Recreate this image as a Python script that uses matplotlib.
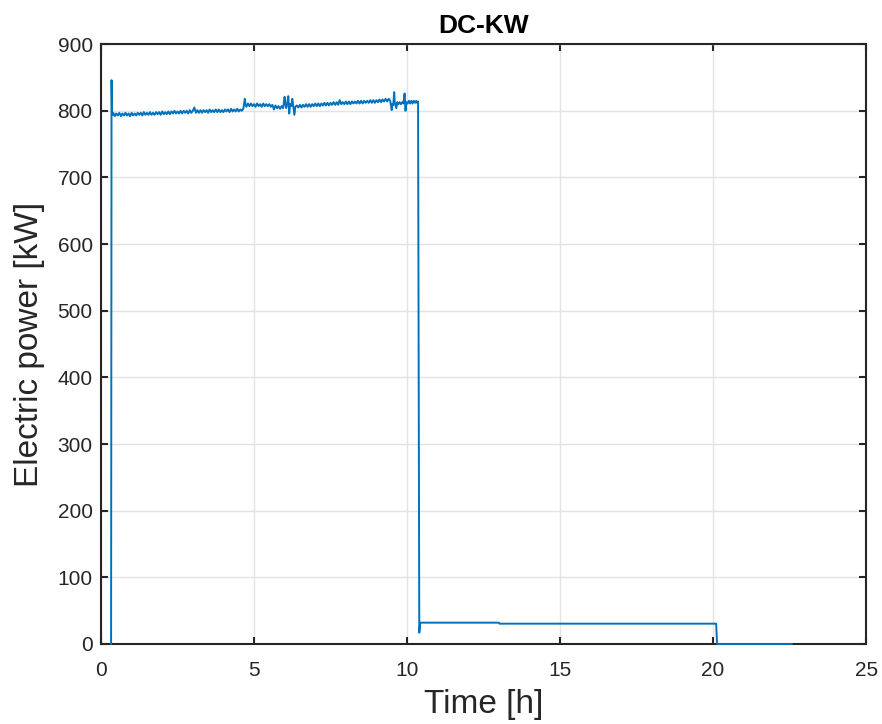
import matplotlib
matplotlib.use("Agg")
import matplotlib.pyplot as plt

plt.rcParams['font.family'] = ['Liberation Sans', 'DejaVu Sans']

# --- data (hours, kW) ---
start_t = [0.33, 0.345, 0.36, 0.38]
start_p = [0.0, 846.0, 796.0, 794.0]

plateau1_t = [0.40, 0.45, 0.50, 0.55, 0.60, 0.65, 0.70, 0.75, 0.80, 0.85,
              0.90, 0.95, 1.00, 1.05, 1.10, 1.15, 1.20, 1.25, 1.30, 1.35,
              1.40, 1.45, 1.50, 1.55, 1.60, 1.65, 1.70, 1.75, 1.80, 1.85,
              1.90, 1.95, 2.00, 2.05, 2.10, 2.15, 2.20, 2.25, 2.30, 2.35,
              2.40, 2.45, 2.50, 2.55, 2.60, 2.65, 2.70, 2.75, 2.80, 2.85,
              2.90, 2.95, 3.00, 3.05, 3.10, 3.15, 3.20, 3.25, 3.30, 3.35,
              3.40, 3.45, 3.50, 3.55, 3.60, 3.65, 3.70, 3.75, 3.80, 3.85,
              3.90, 3.95, 4.00, 4.05, 4.10, 4.15, 4.20, 4.25, 4.30, 4.35,
              4.40, 4.45, 4.50, 4.55, 4.60, 4.65]
plateau1_p = [797, 792, 796, 793, 797, 792, 796, 793, 797, 793,
              796, 792, 797, 793, 796, 793, 797, 794, 797, 793,
              798, 794, 797, 794, 798, 794, 797, 794, 798, 795,
              798, 794, 799, 795, 798, 795, 799, 795, 799, 796,
              800, 796, 799, 796, 800, 796, 800, 797, 800, 796,
              801, 797, 800, 805, 797, 801, 797, 801, 797, 801,
              798, 801, 797, 802, 798, 801, 798, 802, 798, 802,
              798, 801, 798, 802, 799, 802, 798, 803, 799, 802,
              799, 803, 799, 802, 800, 803]

plateau2_t = [4.70, 4.72, 4.75, 4.80, 4.85, 4.90, 4.95, 5.00, 5.05, 5.10,
              5.15, 5.20, 5.25, 5.30, 5.35, 5.40, 5.45, 5.50, 5.55, 5.60,
              5.65, 5.70, 5.75, 5.80, 5.85, 5.90, 5.95, 6.00, 6.02, 6.05,
              6.08, 6.12, 6.15, 6.18, 6.22, 6.25, 6.28, 6.32, 6.35]
plateau2_p = [818, 810, 806, 811, 807, 811, 807, 810, 806, 811,
              807, 810, 806, 811, 807, 810, 807, 810, 806, 809,
              802, 808, 804, 807, 803, 807, 804, 821, 812, 804,
              810, 822, 796, 810, 807, 818, 808, 794, 806]

plateau3_t = [6.40, 6.45, 6.50, 6.55, 6.60, 6.65, 6.70, 6.75, 6.80, 6.85,
              6.90, 6.95, 7.00, 7.05, 7.10, 7.15, 7.20, 7.25, 7.30, 7.35,
              7.40, 7.45, 7.50, 7.55, 7.60, 7.65, 7.70, 7.75, 7.80, 7.85,
              7.90, 7.95, 8.00, 8.05, 8.10, 8.15, 8.20, 8.25, 8.30, 8.35,
              8.40, 8.45, 8.50, 8.55, 8.60, 8.65, 8.70, 8.75, 8.80, 8.85,
              8.90, 8.95, 9.00, 9.05, 9.10, 9.15, 9.20, 9.25, 9.30, 9.35,
              9.40, 9.45]
plateau3_p = [808, 805, 809, 805, 809, 806, 810, 806, 810, 806,
              810, 807, 811, 807, 811, 807, 811, 808, 812, 808,
              812, 808, 812, 809, 813, 809, 813, 809, 816, 810,
              813, 810, 814, 810, 814, 810, 814, 811, 814, 811,
              815, 811, 815, 811, 815, 812, 815, 812, 816, 812,
              816, 812, 816, 813, 817, 813, 817, 814, 818, 814,
              818, 815]

spikes_t = [9.50, 9.52, 9.55, 9.58, 9.60, 9.65, 9.68, 9.72, 9.76, 9.80,
            9.85, 9.88, 9.92, 9.95, 9.98, 10.02, 10.06, 10.10, 10.14, 10.18,
            10.22, 10.26, 10.30, 10.33, 10.36]
spikes_p = [801, 810, 809, 828, 812, 804, 813, 810, 813, 810,
            813, 811, 826, 800, 813, 811, 815, 811, 815, 811,
            815, 812, 815, 812, 814]

standby_t = [10.40, 10.43, 13.0, 13.02, 20.1, 20.13, 22.57]
standby_p = [17, 32, 32, 30.5, 30.5, 0, 0]

time_h = start_t + plateau1_t + plateau2_t + plateau3_t + spikes_t + standby_t
power_kw = start_p + plateau1_p + plateau2_p + plateau3_p + spikes_p + standby_p

x_ticks = [0, 5, 10, 15, 20, 25]
y_ticks = [0, 100, 200, 300, 400, 500, 600, 700, 800, 900]

fig = plt.figure(figsize=(8.82, 7.24), dpi=100)
ax = fig.add_axes([0.1145, 0.1105, 0.8675, 0.8285])

ax.plot(time_h, power_kw, color='#0072BD', lw=1.4, zorder=3, clip_on=False)

ax.set_xlim(0, 25)
ax.set_ylim(0, 900)
ax.set_xticks(x_ticks)
ax.set_yticks(y_ticks)
ax.grid(True, color='#e3e3e3', lw=1.0)
ax.set_axisbelow(True)

for s in ax.spines.values():
    s.set_color('#262626')
    s.set_linewidth(1.5)
ax.tick_params(direction='in', length=5, width=1.5, colors='#262626',
               labelsize=15, top=True, right=True)
ax.tick_params(axis='x', pad=12)
ax.tick_params(axis='y', pad=6)

ax.set_title('DC-KW', fontsize=19, fontweight='bold', pad=8)
ax.set_xlabel('Time [h]', fontsize=24, color='#262626', labelpad=7)
ax.set_ylabel('Electric power [kW]', fontsize=24, color='#262626', labelpad=9)

fig.savefig('out.png', dpi=100)
